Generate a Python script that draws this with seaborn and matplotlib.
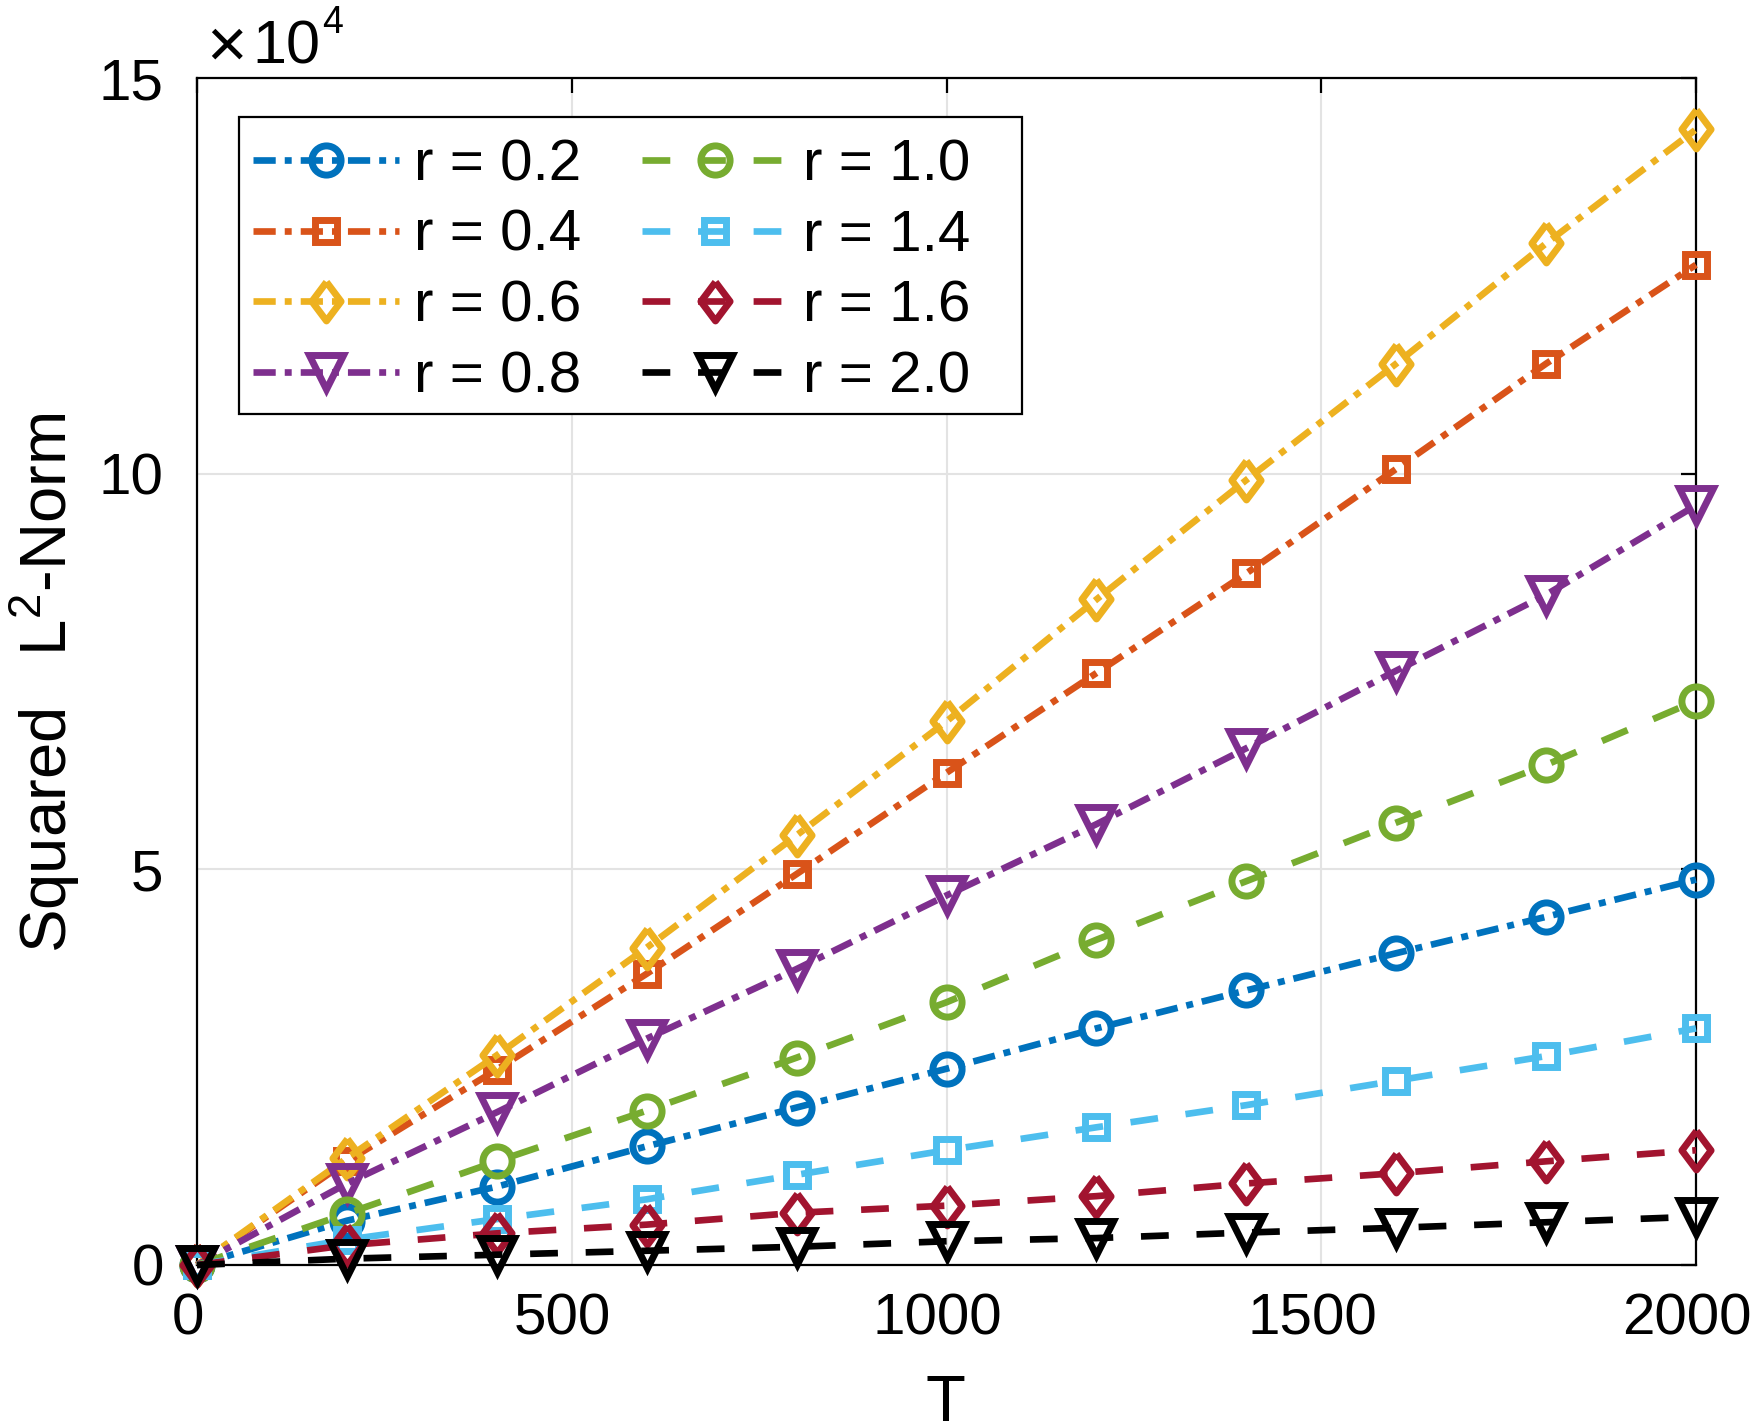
import numpy as np
import pandas as pd
import matplotlib
matplotlib.use("Agg")
import matplotlib.pyplot as plt
import matplotlib.transforms as mtransforms
from matplotlib.patches import Rectangle
import seaborn as sns
from matplotlib.ticker import FuncFormatter, MultipleLocator

# --- data ---
T = [0, 200, 400, 600, 800, 1000, 1200, 1400, 1600, 1800, 2000]

r02 = [0, 5600, 9900, 15000, 19900, 24800, 29900, 34700, 39400, 44000, 48700]
r04 = [0, 13100, 24700, 36800, 49400, 62200, 74800, 87400, 100600, 113900, 126400]
r06 = [0, 13500, 26500, 40100, 54300, 68700, 84100, 99200, 113900, 129100, 143500]
r08 = [0, 10300, 19300, 28600, 37400, 46700, 55700, 65300, 75100, 84700, 96000]
r10 = [0, 6500, 13100, 19500, 26200, 33200, 41100, 48500, 55900, 63200, 71300]
r14 = [0, 3200, 5800, 8300, 11400, 14500, 17400, 20200, 23300, 26400, 29900]
r16 = [0, 2500, 4000, 5100, 6600, 7500, 8700, 10300, 11600, 13100, 14500]
r20 = [0, 800, 1300, 1800, 2300, 3000, 3400, 4100, 4700, 5400, 6100]

labels = ["r = 0.2", "r = 0.4", "r = 0.6", "r = 0.8",
          "r = 1.0", "r = 1.4", "r = 1.6", "r = 2.0"]
series = [r02, r04, r06, r08, r10, r14, r16, r20]

colors = ["#0072BD", "#D95319", "#EDB120", "#7E2F8E",
          "#77AC30", "#4DBEEE", "#A2142F", "#000000"]

# matlab-ish diamond (taller than wide)
diamond = [(0, 1), (0.75, 0), (0, -1), (-0.75, 0), (0, 1)]
markers = ["o", "s", diamond, "v", "o", "s", diamond, "v"]
msizes = [21, 16, 28, 25, 21, 16, 28, 25]

dashdot = (16, 6.5, 5, 6.5)
dashed = (20, 20)
styles = [dashdot] * 4 + [dashed] * 4

df = pd.DataFrame({
    "T": T * len(series),
    "val": [v for s in series for v in s],
    "label": [lab for lab in labels for _ in T],
})

sns.set_theme(style="white")
plt.rcParams["font.family"] = ["Liberation Sans", "DejaVu Sans"]
plt.rcParams["lines.scale_dashes"] = False
plt.rcParams["text.color"] = "black"
plt.rcParams["axes.labelcolor"] = "black"
plt.rcParams["xtick.color"] = "black"
plt.rcParams["ytick.color"] = "black"

fig = plt.figure(figsize=(17.5, 14.23), dpi=100)
ax = fig.add_axes([197 / 1750, 1 - 1265 / 1423, 1499 / 1750, 1187 / 1423])

for lab, col, mk, ms, ds in zip(labels, colors, markers, msizes, styles):
    sub = df[df["label"] == lab]
    sns.lineplot(data=sub, x="T", y="val", ax=ax, color=col, label=lab,
                 marker=mk, markersize=ms, markeredgecolor=col,
                 markerfacecolor="none", markeredgewidth=5,
                 linewidth=4.8, dashes=ds, clip_on=False, zorder=3)

ax.set_xlim(0, 2000)
ax.set_ylim(0, 150000)
ax.xaxis.set_major_locator(MultipleLocator(500))
ax.yaxis.set_major_locator(MultipleLocator(50000))
ax.yaxis.set_major_formatter(FuncFormatter(lambda v, p: f"{v / 1e4:g}"))

ax.grid(True, color="#e3e3e3", linewidth=1.5, zorder=0)
ax.set_axisbelow(True)
for sp in ax.spines.values():
    sp.set_color("black")
    sp.set_linewidth(1.6)
ax.tick_params(axis="both", which="both", direction="in", length=11, width=1.6,
               top=True, right=True, labelsize=42, colors="black")
ax.tick_params(axis="x", pad=20)
ax.tick_params(axis="y", pad=24)

ax.set_xlabel("T", fontsize=47)
ax.set_ylabel("Squared\u2002 L$^\\mathregular{2}$-Norm", fontsize=47)
ax.xaxis.set_label_coords(0.499, -0.092)
ax.yaxis.set_label_coords(-0.0765, 0.4907)

# offset text (x10^4) like matlab
fig.text(206 / 1750, 1 - 49 / 1423, "×", fontsize=50, ha="left", va="center")
fig.text(252 / 1750, 1 - 63 / 1423, "10", fontsize=44, ha="left", va="baseline")
fig.text(322 / 1750, 1 - 33 / 1423, "4", fontsize=27, ha="left", va="baseline")

# legend box drawn separately (matlab leaves extra room on the right)
ax.add_patch(Rectangle((0.028, 0.717), 0.5224, 0.2501, transform=ax.transAxes,
                       facecolor="white", edgecolor="black", linewidth=1.6,
                       zorder=4, clip_on=False))
leg = ax.legend(loc="upper left", bbox_to_anchor=(0.0375, 0.9494), borderaxespad=0,
                ncol=2, fontsize=42, handlelength=2.5, handletextpad=0.25,
                columnspacing=1.05, labelspacing=0.29, borderpad=0,
                frameon=False)
leg.set_zorder(5)

# matlab draws x tick labels a bit left of the tick
offset = mtransforms.ScaledTranslation(-9 / 100, 0, fig.dpi_scale_trans)
for lbl in ax.get_xticklabels():
    lbl.set_transform(lbl.get_transform() + offset)

fig.savefig("out.png", dpi=100)
plt.close(fig)
